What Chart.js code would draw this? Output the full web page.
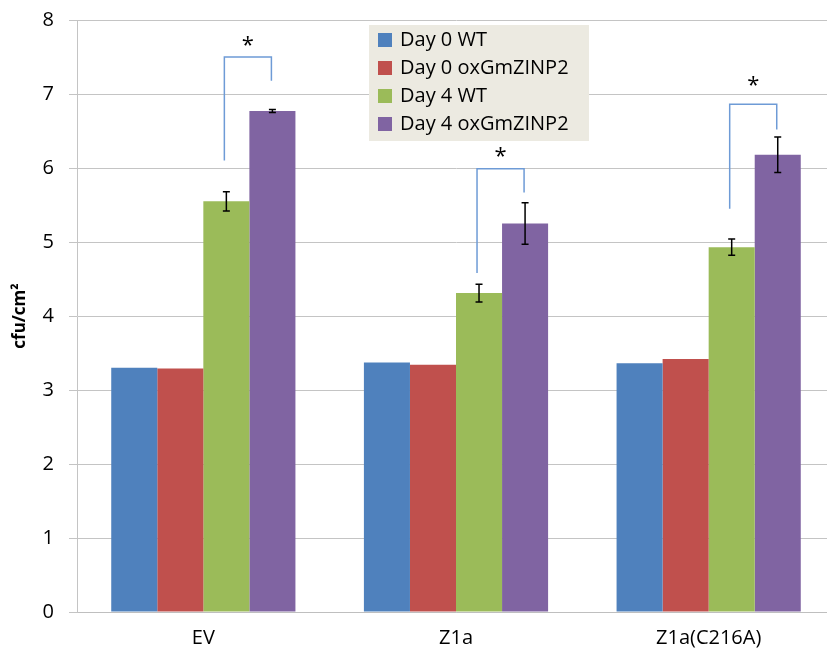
<!DOCTYPE html>
<html><head><meta charset="utf-8">
<script src="https://cdn.jsdelivr.net/npm/chart.js@4.4.0/dist/chart.umd.min.js"></script>
<style>
html,body{margin:0;padding:0;background:#fff;overflow:hidden;}
#wrap{position:relative;width:827px;height:658px;overflow:hidden;}
canvas{display:block;}
</style></head><body>
<div id="wrap"><canvas id="c" width="835" height="658"></canvas></div>
<script>
const categories = ['EV', 'Z1a', 'Z1a(C216A)'];
const seriesNames = ['Day 0 WT', 'Day 0 oxGmZINP2', 'Day 4 WT', 'Day 4 oxGmZINP2'];
const day0WT = [3.30, 3.37, 3.36];
const day0Ox = [3.29, 3.34, 3.42];
const day4WT = [5.55, 4.31, 4.93];
const day4Ox = [6.77, 5.25, 6.18];
const day4WTErr = [0.13, 0.12, 0.11];
const day4OxErr = [0.02, 0.28, 0.24];
// significance brackets between Day 4 WT and Day 4 oxGmZINP2
const bracketLeftFoot = [6.10, 4.58, 5.45];
const bracketTop = [7.50, 5.99, 6.86];
const bracketRightFoot = [7.18, 5.67, 6.52];
const starLevel = [7.70, 6.20, 7.16];
const yMin = 0, yMax = 8, yStep = 1;

const colors = ['#4F81BD', '#C0504D', '#9BBB59', '#8064A2'];
const FONT = '"Open Sans", "Liberation Sans", sans-serif';

const errorBars = {
  id: 'errorBars',
  afterDatasetsDraw(chart) {
    const ctx = chart.ctx, y = chart.scales.y;
    const draw = (dsIndex, vals, errs) => {
      const meta = chart.getDatasetMeta(dsIndex);
      meta.data.forEach((bar, i) => {
        const top = y.getPixelForValue(vals[i] + errs[i]);
        const bot = y.getPixelForValue(vals[i] - errs[i]);
        ctx.save();
        ctx.strokeStyle = '#000';
        ctx.lineWidth = 1.5;
        ctx.beginPath();
        ctx.moveTo(bar.x, top); ctx.lineTo(bar.x, bot);
        ctx.moveTo(bar.x - 3.5, top); ctx.lineTo(bar.x + 3.5, top);
        ctx.moveTo(bar.x - 3.5, bot); ctx.lineTo(bar.x + 3.5, bot);
        ctx.stroke();
        ctx.restore();
      });
    };
    draw(2, day4WT, day4WTErr);
    draw(3, day4Ox, day4OxErr);

    // brackets with asterisks
    const g = chart.getDatasetMeta(2).data, p = chart.getDatasetMeta(3).data;
    categories.forEach((c, i) => {
      const xl = g[i].x - 2, xr = p[i].x - 1;
      ctx.save();
      ctx.strokeStyle = '#6E9BD6';
      ctx.lineWidth = 1.5;
      ctx.beginPath();
      ctx.moveTo(xl, y.getPixelForValue(bracketLeftFoot[i]));
      ctx.lineTo(xl, y.getPixelForValue(bracketTop[i]));
      ctx.lineTo(xr, y.getPixelForValue(bracketTop[i]));
      ctx.lineTo(xr, y.getPixelForValue(bracketRightFoot[i]));
      ctx.stroke();
      ctx.fillStyle = '#000';
      ctx.font = '22px ' + FONT;
      ctx.textAlign = 'center';
      ctx.textBaseline = 'middle';
      ctx.fillText('*', (xl + xr) / 2, y.getPixelForValue(starLevel[i]) + 4);
      ctx.restore();
    });
  }
};

const boxLegend = {
  id: 'boxLegend',
  afterDraw(chart) {
    const ctx = chart.ctx;
    const x0 = 369, y0 = 25, w = 220, h = 116;
    ctx.save();
    ctx.fillStyle = '#ECEAE1';
    ctx.fillRect(x0, y0, w, h);
    ctx.font = '20px ' + FONT;
    ctx.textBaseline = 'middle';
    ctx.textAlign = 'left';
    chart.data.datasets.forEach((ds, i) => {
      const cy = y0 + 15 + i * 28;
      ctx.fillStyle = ds.backgroundColor;
      ctx.fillRect(x0 + 9, cy - 7, 14, 14);
      ctx.fillStyle = '#000';
      ctx.fillText(ds.label, x0 + 31, cy);
    });
    ctx.restore();
  }
};

const datasets = [day0WT, day0Ox, day4WT, day4Ox].map((vals, i) => ({
  label: seriesNames[i],
  data: vals,
  backgroundColor: colors[i],
  borderWidth: 0,
  categoryPercentage: 0.729,
  barPercentage: 1.0
}));

new Chart(document.getElementById('c'), {
  type: 'bar',
  data: { labels: categories, datasets },
  options: {
    responsive: false,
    animation: false,
    layout: { padding: { top: 20, right: 0, bottom: 0, left: 0 } },
    plugins: { legend: { display: false }, tooltip: { enabled: false } },
    scales: {
      x: {
        afterFit(scale) { scale.height = 46; },
        grid: { display: false, drawTicks: false },
        border: { display: true, color: '#BFBFBF', width: 1 },
        ticks: { font: { family: FONT, size: 20 }, color: '#000', padding: 14 }
      },
      y: {
        min: yMin, max: yMax,
        afterFit(scale) { scale.width = 77; scale.paddingTop = 0; scale.paddingBottom = 0; },
        ticks: { stepSize: yStep, font: { family: FONT, size: 20 }, color: '#000', padding: 15 },
        grid: { color: '#C4C4C4', lineWidth: 1, tickLength: 8, drawTicks: true },
        border: { display: true, color: '#C4C4C4', width: 1 },
        title: {
          display: true, text: 'cfu/cm²',
          font: { family: FONT, size: 17, weight: 'bold' }, color: '#000',
          padding: { top: 10, bottom: 0 }
        }
      }
    }
  },
  plugins: [errorBars, boxLegend]
});
</script>
</body></html>
